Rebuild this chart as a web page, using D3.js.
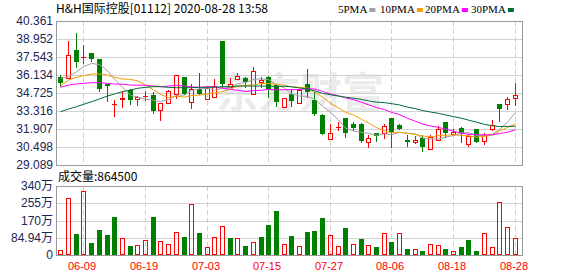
<!DOCTYPE html>
<html>
<head>
<meta charset="utf-8">
<script src="https://cdn.jsdelivr.net/npm/d3@7"></script>
<style>
html, body { margin: 0; padding: 0; background: #fff; }
svg { display: block; font-family: "Liberation Sans", Arial, sans-serif; }
</style>
</head>
<body>
<svg id="chart" width="578" height="276"></svg>
<script>
// trading days shown (2020)
const dates = ["06-04","06-05","06-08","06-09","06-10","06-11","06-12","06-15","06-16","06-17",
  "06-18","06-19","06-22","06-23","06-24","06-26","06-29","06-30","07-02","07-03",
  "07-06","07-07","07-08","07-09","07-10","07-13","07-14","07-15","07-16","07-17",
  "07-20","07-21","07-22","07-23","07-24","07-27","07-28","07-29","07-30","07-31",
  "08-03","08-04","08-05","08-06","08-07","08-10","08-11","08-12","08-13","08-14",
  "08-17","08-18","08-19","08-20","08-21","08-24","08-25","08-26","08-27","08-28"];

const open = [35.95,35.88,38.09,37.52,37.83,37.39,35.40,33.85,34.23,34.96,
  34.26,34.50,34.57,33.37,33.97,34.62,35.95,34.04,35.01,34.23,
  34.39,38.80,35.17,35.84,35.92,34.67,35.56,36.00,35.35,33.65,
  34.62,33.97,35.41,34.18,33.00,31.10,32.10,32.74,32.30,32.30,
  30.87,31.57,31.57,32.74,32.22,31.05,30.91,31.23,30.32,31.05,
  32.43,31.49,31.96,30.71,31.88,30.99,31.88,33.86,33.89,34.31];
const high = [36.13,38.82,39.42,38.48,37.83,37.40,35.41,34.15,34.88,35.00,
  34.51,34.88,34.83,33.95,34.95,36.15,36.00,35.41,36.27,35.20,
  35.82,38.80,35.88,36.31,35.95,36.76,35.95,36.05,35.40,34.35,
  35.01,35.00,36.60,34.83,33.05,32.30,32.48,32.80,32.48,32.35,
  31.44,31.60,32.30,32.80,32.30,31.44,31.36,31.44,31.44,32.14,
  32.45,31.91,32.09,31.49,31.90,31.57,32.61,33.90,34.44,35.48];
const low = [35.22,35.88,36.71,37.00,37.18,34.83,34.04,32.87,33.57,33.79,
  33.73,34.10,33.06,32.56,33.90,34.26,34.55,33.45,34.60,34.20,
  34.35,35.09,35.09,35.74,35.14,34.67,35.09,34.36,33.61,33.60,
  33.65,33.90,34.36,32.95,31.44,31.05,31.75,31.18,31.75,30.79,
  30.40,30.91,31.10,30.40,31.85,30.52,30.71,30.08,30.30,31.00,
  31.18,31.36,30.79,30.52,30.85,30.65,31.75,32.48,33.39,33.71];
const close = [35.48,37.68,37.18,37.52,37.36,35.01,35.30,33.85,34.36,34.18,
  34.39,34.50,33.32,33.92,34.86,36.11,34.62,35.01,34.65,35.14,
  35.27,35.43,35.40,36.06,35.56,36.45,35.74,35.04,34.04,34.31,
  34.10,34.96,34.83,33.06,31.52,31.62,32.10,31.57,32.01,30.97,
  31.18,31.36,32.14,31.65,31.91,30.87,31.05,30.52,31.30,31.88,
  31.57,31.65,31.62,31.36,30.87,31.44,32.22,33.47,34.23,34.57];

const ma5 = [35.88,36.00,36.39,36.78,37.04,36.95,36.47,35.81,35.18,34.54,
  34.41,34.25,34.15,34.06,34.20,34.54,34.57,34.91,35.05,35.11,
  34.94,35.10,35.17,35.46,35.54,35.78,35.84,35.77,35.37,35.12,
  34.65,34.49,34.45,34.25,33.69,33.20,32.62,31.97,31.76,31.65,
  31.57,31.42,31.53,31.46,31.65,31.58,31.52,31.20,31.13,31.12,
  31.27,31.39,31.60,31.62,31.41,31.39,31.50,31.87,32.45,33.19];
const ma10 = [35.27,35.74,35.95,36.08,36.21,36.21,36.13,35.95,35.82,35.79,
  35.68,35.36,34.98,34.62,34.37,34.48,34.41,34.53,34.56,34.65,
  34.74,34.83,35.04,35.25,35.32,35.36,35.47,35.47,35.41,35.33,
  35.21,35.17,35.11,34.81,34.40,33.92,33.56,33.21,33.01,32.67,
  32.38,32.02,31.75,31.61,31.65,31.57,31.47,31.36,31.29,31.39,
  31.42,31.45,31.40,31.37,31.27,31.33,31.44,31.74,32.03,32.30];
const ma20 = [35.17,35.35,35.43,35.48,35.53,35.53,35.48,35.43,35.41,35.35,
  35.33,35.33,35.27,35.22,35.27,35.33,35.27,35.20,35.17,35.22,
  35.21,35.10,35.01,34.94,34.85,34.92,34.94,35.00,34.98,34.99,
  34.98,35.00,35.07,35.03,34.86,34.64,34.51,34.34,34.21,34.00,
  33.80,33.59,33.43,33.21,33.03,32.75,32.51,32.29,32.15,32.03,
  31.90,31.74,31.58,31.49,31.46,31.45,31.46,31.55,31.66,31.84];
const ma30 = [33.26,33.47,33.65,33.84,34.04,34.26,34.49,34.65,34.83,34.96,
  35.09,35.17,35.22,35.22,35.17,35.14,35.14,35.14,35.17,35.17,
  35.17,35.22,35.22,35.27,35.27,35.27,35.27,35.27,35.22,35.26,
  35.21,35.12,35.04,34.89,34.70,34.59,34.48,34.40,34.32,34.22,
  34.11,34.01,33.97,33.89,33.79,33.62,33.50,33.35,33.24,33.13,
  33.01,32.88,32.75,32.60,32.44,32.27,32.16,32.10,32.11,32.12];

// volume in 万 shares, and up/down colour of each volume bar
const volume = [30,282,104,317,61,128,99,190,85,48,
  51,78,190,74,59,117,90,253,109,41,
  90,143,85,85,48,69,90,148,216,59,
  95,46,114,119,182,103,46,133,56,80,
  51,41,112,65,112,32,35,22,59,51,
  32,25,41,75,22,112,41,262,138,86.45];
const volDir = ["u","u","d","u","d","d","d","d","u","d",
  "u","u","d","u","u","u","d","u","d","u",
  "u","u","d","u","d","u","d","d","d","u",
  "d","u","d","d","d","u","u","d","u","d",
  "u","d","u","d","u","d","u","d","u","u",
  "d","u","d","d","d","u","u","u","u","u"];

const priceTicks = [29.089,30.498,31.907,33.316,34.725,36.134,37.543,38.952,40.361];
const volTicks = [0,84.94,170,255,340];
const volTickLabels = ["0","84.94万","170万","255万","340万"];
const dateTicks = ["06-09","06-19","07-03","07-15","07-27","08-06","08-18","08-28"];
const maNames = ["5PMA","10PMA","20PMA","30PMA"];
const maColors = ["#a0a0a0","#f0a000","#ff00ff","#006b35"];
const title = "H&H国际控股[01112] 2020-08-28 13:58";
const lastVolume = "864500";

const RED = "#ff0000", GREEN = "#008000";
const L = 56, R = 522, T = 21, B = 165, VT = 186, VB = 255;

const svg = d3.select("#chart");

const x = d3.scaleBand().domain(dates).range([56.45, 518.45]).padding(0);
const xc = d => Math.round(x(d) + x.bandwidth() / 2);
const y = d3.scaleLinear().domain([priceTicks[0], priceTicks[priceTicks.length - 1]]).range([B, T]);
const yv = d3.scaleLinear().domain([0, 340]).range([255.8, VT]);

// watermark
svg.append("text")
  .attr("x", 300).attr("y", 108)
  .attr("text-anchor", "middle")
  .style("font-family", "'Noto Sans CJK SC', sans-serif")
  .style("font-weight", "bold")
  .style("font-size", "42px")
  .style("fill", "#ebebeb")
  .text("东方财富");

// grid, main pane
svg.append("g").selectAll("line")
  .data(priceTicks.slice(1, -1))
  .join("line")
  .attr("x1", L).attr("x2", R)
  .attr("y1", d => Math.round(y(d)) + 0.5).attr("y2", d => Math.round(y(d)) + 0.5)
  .attr("stroke", "#d2d2d2");

// grid, volume pane
svg.append("g").selectAll("line")
  .data(volTicks.slice(1, -1))
  .join("line")
  .attr("x1", L).attr("x2", R)
  .attr("y1", d => Math.round(yv(d)) + 0.5).attr("y2", d => Math.round(yv(d)) + 0.5)
  .attr("stroke", "#d2d2d2");

// dashed verticals at the date ticks
const vg = svg.append("g");
[[T, B], [VT, VB]].forEach(function(r){
  vg.append("g").selectAll("line")
    .data(dateTicks)
    .join("line")
    .attr("x1", d => xc(d) + 0.5).attr("x2", d => xc(d) + 0.5)
    .attr("y1", r[0]).attr("y2", r[1])
    .attr("stroke", "#cfcfcf")
    .attr("stroke-dasharray", "5,3");
});

// pane borders
svg.append("rect").attr("x", L + 0.5).attr("y", T + 0.5).attr("width", R - L).attr("height", B - T)
  .attr("fill", "none").attr("stroke", "#999");
svg.append("rect").attr("x", L + 0.5).attr("y", VT + 0.5).attr("width", R - L).attr("height", VB - VT)
  .attr("fill", "none").attr("stroke", "#999");

// candles
const idx = d3.range(dates.length);
const cg = svg.append("g");
idx.forEach(function(i){
  const cx = xc(dates[i]);
  const up = close[i] >= open[i];
  const col = up ? RED : GREEN;
  const top = Math.round(y(Math.max(open[i], close[i])));
  const bot = Math.round(y(Math.min(open[i], close[i])));
  const hy = Math.round(y(high[i])), ly = Math.round(y(low[i]));
  if(open[i] == close[i]){
    cg.append("line").attr("x1", cx + 0.5).attr("x2", cx + 0.5).attr("y1", hy).attr("y2", ly).attr("stroke", col);
    cg.append("line").attr("x1", cx - 2).attr("x2", cx + 3).attr("y1", top + 0.5).attr("y2", top + 0.5).attr("stroke", col);
  }else if(up){
    if(hy < top) cg.append("line").attr("x1", cx + 0.5).attr("x2", cx + 0.5).attr("y1", hy).attr("y2", top).attr("stroke", col);
    if(ly > bot) cg.append("line").attr("x1", cx + 0.5).attr("x2", cx + 0.5).attr("y1", bot).attr("y2", ly).attr("stroke", col);
    cg.append("rect").attr("x", cx - 1.5).attr("y", top + 0.5).attr("width", 4).attr("height", Math.max(1, bot - top))
      .attr("fill", "none").attr("stroke", col);
  }else{
    cg.append("line").attr("x1", cx + 0.5).attr("x2", cx + 0.5).attr("y1", hy).attr("y2", ly).attr("stroke", col);
    cg.append("rect").attr("x", cx - 2).attr("y", top).attr("width", 5).attr("height", Math.max(1, bot - top))
      .attr("fill", col);
  }
});

// moving averages
const maData = [ma5, ma10, ma20, ma30];
const line = d3.line().x((v, i) => xc(dates[i]) + 0.5).y(v => y(v));
svg.append("g").selectAll("path")
  .data(maData)
  .join("path")
  .attr("d", line)
  .attr("fill", "none")
  .attr("stroke", (d, i) => maColors[i])
  .attr("stroke-width", 1);

// volume bars
const bg = svg.append("g");
idx.forEach(function(i){
  const cx = xc(dates[i]);
  const top = Math.round(yv(volume[i]));
  if(volDir[i] == "u"){
    bg.append("rect").attr("x", cx - 1.5).attr("y", top + 0.5).attr("width", 4).attr("height", VB - top - 1)
      .attr("fill", "none").attr("stroke", RED);
  }else{
    bg.append("rect").attr("x", cx - 2).attr("y", top).attr("width", 5).attr("height", VB - top)
      .attr("fill", GREEN);
  }
});

// price axis labels
svg.append("g").selectAll("text")
  .data(priceTicks)
  .join("text")
  .attr("x", 53).attr("y", d => y(d))
  .attr("text-anchor", "end")
  .attr("dominant-baseline", "central")
  .style("font-size", "12px")
  .style("fill", "#1c2654")
  .text(d => d.toFixed(3));

// volume axis labels
svg.append("g").selectAll("text")
  .data(volTicks)
  .join("text")
  .attr("x", 53).attr("y", (d, i) => i == 0 ? VB : yv(d))
  .attr("text-anchor", "end")
  .attr("dominant-baseline", "central")
  .style("font-family", "'Liberation Sans','Noto Sans CJK SC',sans-serif")
  .style("font-size", "12px")
  .style("fill", "#1c2654")
  .text((d, i) => volTickLabels[i]);

// date labels
svg.append("g").selectAll("text")
  .data(dateTicks)
  .join("text")
  .attr("x", d => xc(d) - 1).attr("y", 266)
  .attr("text-anchor", "middle")
  .attr("dominant-baseline", "central")
  .style("font-size", "11px")
  .style("fill", RED)
  .text(d => d);

// title
svg.append("text")
  .attr("x", 56).attr("y", 13)
  .style("font-family", "'Noto Sans CJK SC',sans-serif")
  .style("font-size", "12px")
  .style("fill", "#000")
  .text(title);

// volume caption
svg.append("text")
  .attr("x", 58).attr("y", 181)
  .style("font-family", "'Noto Sans CJK SC',sans-serif")
  .style("font-size", "12px")
  .style("fill", "#000")
  .text("成交量:" + lastVolume);

// legend
const lg = svg.append("g").style("font-family", "'Liberation Serif',serif").style("font-size", "11px");
const legX = [338, 380, 425, 471];
maNames.forEach(function(n, i){
  const t = lg.append("text").attr("x", legX[i]).attr("y", 13).style("fill", "#000").text(n);
  const w = t.node().getComputedTextLength();
  lg.append("rect").attr("x", legX[i] + w + 2).attr("y", 8).attr("width", 6).attr("height", 4).attr("fill", maColors[i]);
});
</script>
</body>
</html>
